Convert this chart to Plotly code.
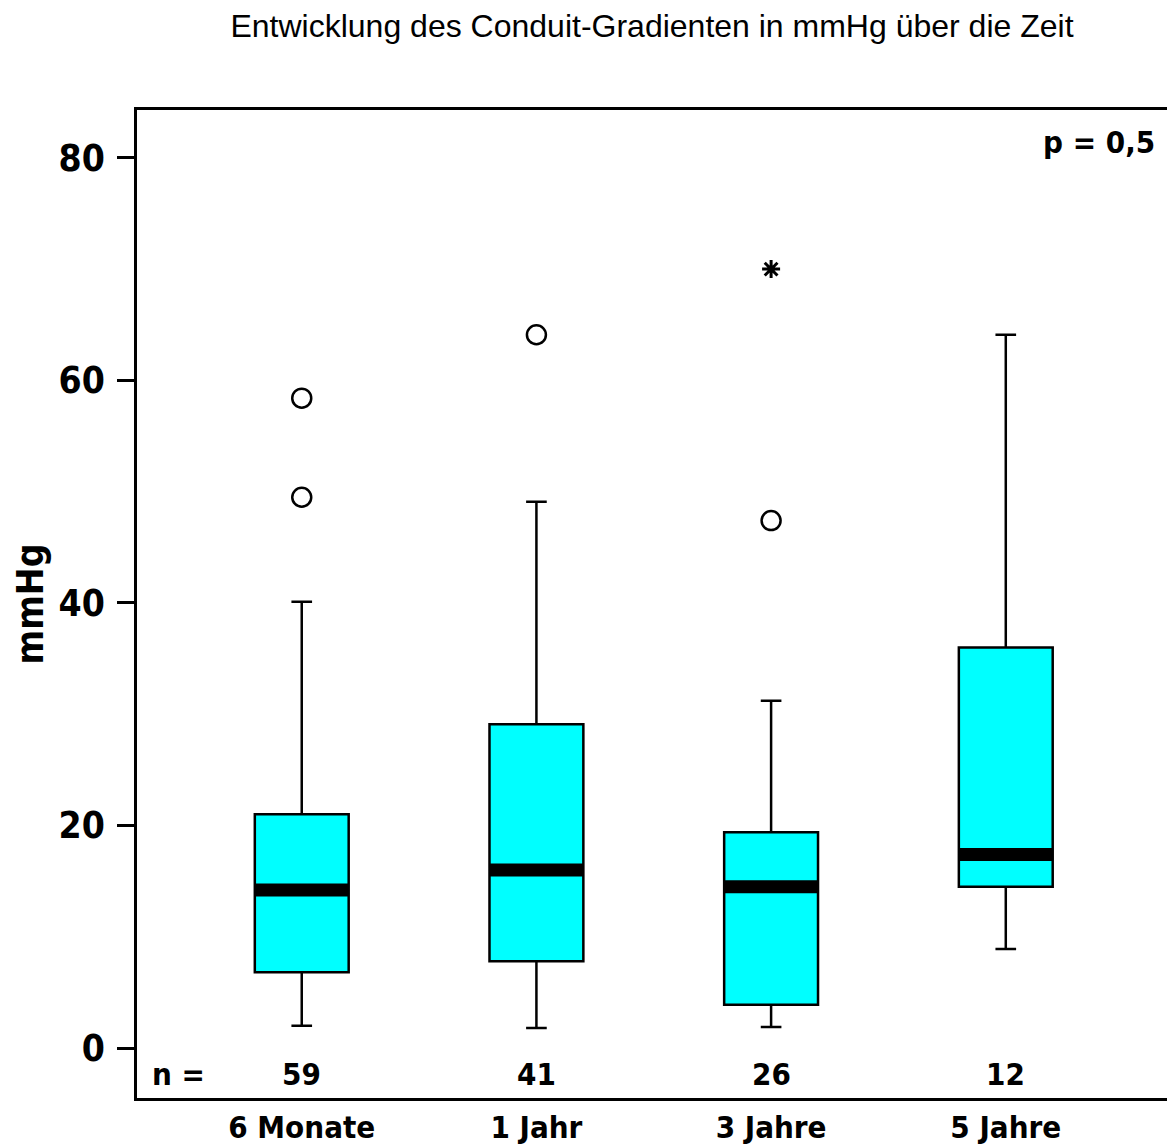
import plotly.graph_objects as go

categories = ["6 Monate", "1 Jahr", "3 Jahre", "5 Jahre"]
n_values = ["59", "41", "26", "12"]
lower_whisker = [2.0, 1.8, 1.9, 8.9]
q1_values = [6.8, 7.8, 3.9, 14.5]
median_values = [14.2, 16.0, 14.5, 17.4]
q3_values = [21.0, 29.1, 19.4, 36.0]
upper_whisker = [40.1, 49.1, 31.2, 64.1]
outlier_cat = [0, 0, 1, 2]
outlier_vals = [58.4, 49.5, 64.1, 47.4]
extreme_cat = [2]
extreme_vals = [70.0]
p_text = "p = 0,5"

pos = list(range(len(categories)))
box_w = 0.40
narrow = "Liberation Sans Narrow, Arial Narrow, DejaVu Sans Condensed"

fig = go.Figure()
fig.add_trace(go.Box(
    x=pos, q1=q1_values, median=median_values, q3=q3_values,
    lowerfence=lower_whisker, upperfence=upper_whisker,
    width=box_w, whiskerwidth=0.22, boxpoints=False,
    fillcolor="#00FFFF", line=dict(color="black", width=2.5),
    showlegend=False, hoverinfo="skip"))

# thick median bars
mx, my = [], []
for p, m in zip(pos, median_values):
    mx += [p - box_w / 2, p + box_w / 2, None]
    my += [m, m, None]
fig.add_trace(go.Scatter(x=mx, y=my, mode="lines",
                         line=dict(color="black", width=13),
                         showlegend=False, hoverinfo="skip"))

fig.add_trace(go.Scatter(x=outlier_cat, y=outlier_vals, mode="markers",
                         marker=dict(symbol="circle-open", size=19,
                                     color="black", line=dict(width=2.5)),
                         showlegend=False))
fig.add_trace(go.Scatter(x=extreme_cat, y=extreme_vals, mode="markers",
                         marker=dict(symbol="asterisk-open", size=15,
                                     color="black", line=dict(width=3, color="black")),
                         showlegend=False))

nfont = dict(family=narrow, size=31, color="black", weight="bold")
fig.add_annotation(x=-0.527, y=-2.3, text="n =", showarrow=False, font=nfont)
for p, n in zip(pos, n_values):
    fig.add_annotation(x=p, y=-2.3, text=n, showarrow=False, font=nfont)
fig.add_annotation(xref="paper", x=0.99, xanchor="right", y=81.4, text=p_text,
                   showarrow=False, font=nfont)

fig.update_layout(
    width=1167, height=1147,
    margin=dict(l=137, r=0, t=110, b=49),
    paper_bgcolor="white", plot_bgcolor="white",
    title=dict(text="Entwicklung des Conduit-Gradienten in mmHg über die Zeit",
               x=0.5, xref="paper", y=1 - 26 / 1147, yref="container",
               yanchor="middle", xanchor="center",
               font=dict(family="Liberation Sans, Arial", size=32, color="black")),
    xaxis=dict(range=[-0.702, 3.687], tickvals=pos, ticktext=categories,
               showline=True, mirror=True, linecolor="black", linewidth=2.5,
               ticks="", showgrid=False, zeroline=False, automargin=False,
               tickfont=dict(family=narrow, size=31, color="black", weight="bold")),
    yaxis=dict(range=[-4.49, 84.3], tickvals=[0, 20, 40, 60, 80],
               showline=True, linecolor="black", linewidth=2.5,
               ticks="outside", ticklen=17, tickwidth=2.5, tickcolor="black",
               ticklabelstandoff=5, automargin=False,
               showgrid=False, zeroline=False,
               tickfont=dict(family=narrow, size=37, color="black", weight="bold"),
               title=dict(text="mmHg", standoff=4,
                          font=dict(family=narrow, size=37, color="black", weight="bold"))),
)

fig.write_html("out.html")
